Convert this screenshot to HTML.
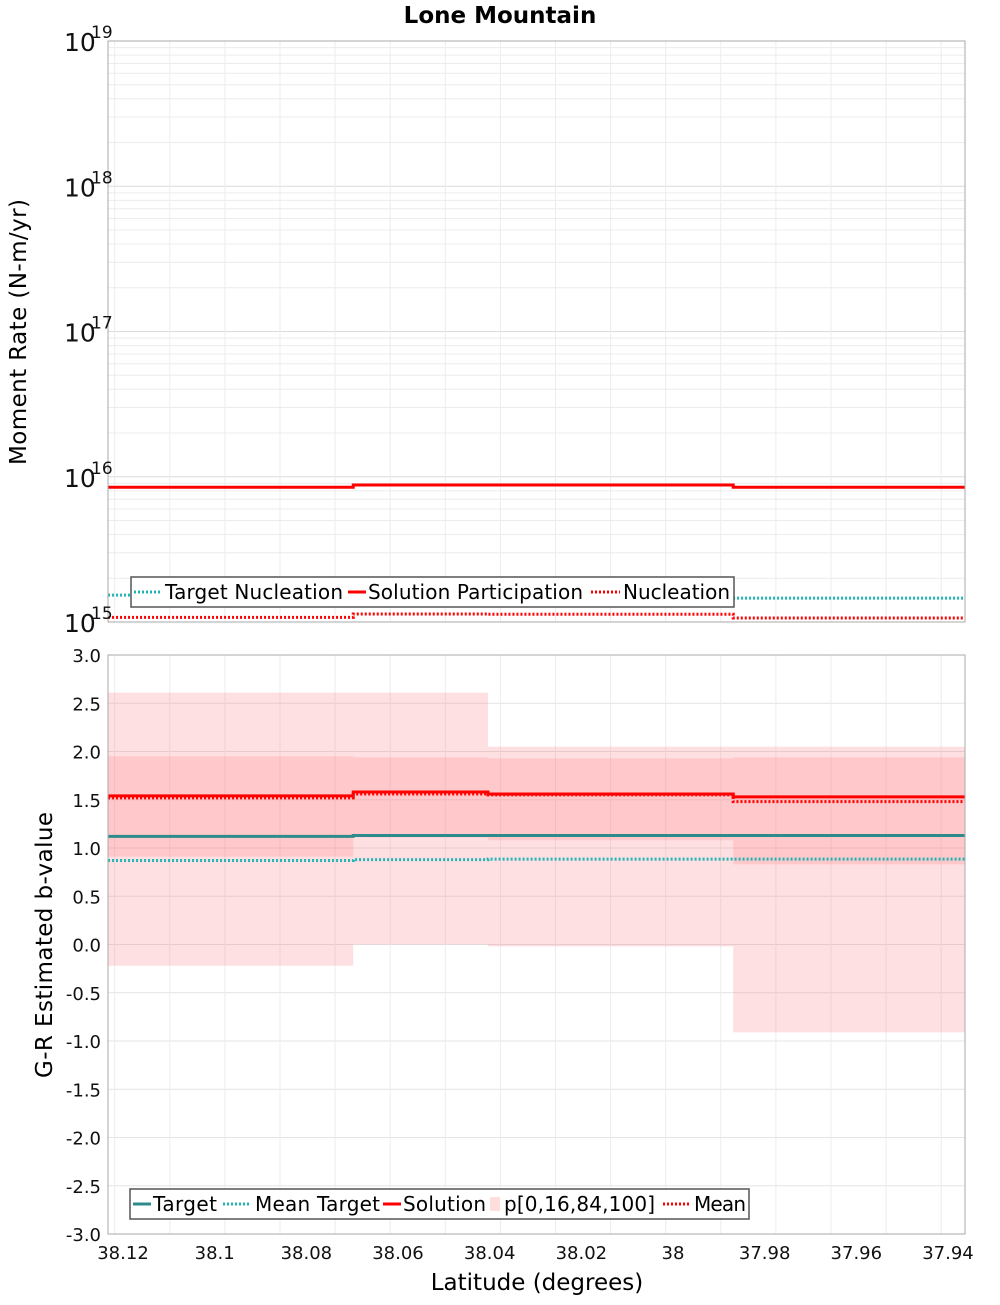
<!DOCTYPE html>
<html><head><meta charset="utf-8"><style>
body{margin:0;background:#fff}
text{font-family:"DejaVu Sans","Liberation Sans",sans-serif}
</style></head><body>
<svg id="c" width="1000" height="1300" xmlns="http://www.w3.org/2000/svg"></svg>
<script>
// data
const edges = [38.1237, 38.0702, 38.0408, 37.9873, 37.9367];
const topSolution = [8.46e15, 8.78e15, 8.78e15, 8.46e15];
const topTargetNuc = [1.53e15, 1.50e15, 1.48e15, 1.46e15];
const topNucleation = [1.077e15, 1.135e15, 1.13e15, 1.066e15];
const bSolution = [1.54, 1.58, 1.56, 1.53];
const bMean = [1.52, 1.56, 1.55, 1.48];
const bTarget = [1.12, 1.13, 1.13, 1.13];
const bMeanTarget = [0.87, 0.88, 0.885, 0.885];
const p0 = [-0.22, 0.0, -0.02, -0.91];
const p16 = [0.91, 1.11, 1.08, 0.83];
const p84 = [1.95, 1.94, 1.93, 1.94];
const p100 = [2.61, 2.61, 2.05, 2.05];
const xTicks = [38.12, 38.1, 38.08, 38.06, 38.04, 38.02, 38, 37.98, 37.96, 37.94];
const xTickLabels = ["38.12","38.1","38.08","38.06","38.04","38.02","38","37.98","37.96","37.94"];
const bTicks = [3,2.5,2,1.5,1,0.5,0,-0.5,-1,-1.5,-2,-2.5,-3];
const bTickLabels = ["3.0","2.5","2.0","1.5","1.0","0.5","0.0","-0.5","-1.0","-1.5","-2.0","-2.5","-3.0"];
const topDecades = [15,16,17,18,19];

const svg = document.getElementById('c');
const NS = 'http://www.w3.org/2000/svg';
function mk(tag, attrs, parent){const e=document.createElementNS(NS,tag);for(const k in attrs)e.setAttribute(k,attrs[k]);(parent||svg).appendChild(e);return e;}
const L=108,R=965;
const xS = v => 125 + (38.12 - v) * 4583.3;
const yTop = v => 622 - (Math.log10(v) - 15) * 145.25;
const yBot = v => 944.5 - v * 96.5;

let g = mk('g',{});


for(let d=15; d<19; d++){ for(let m=1;m<10;m++){ const y=yTop(m*Math.pow(10,d)); mk('line',{x1:L,x2:R,y1:y,y2:y,stroke:m===1?'#dcdcdc':'#ececec','stroke-width':1},g);} }
let gb = mk('g',{});


for(const t of bTicks){const y=yBot(t); mk('line',{x1:L,x2:R,y1:y,y2:y,stroke:'#e4e4e4','stroke-width':1},gb);}
for(let x=114.7;x<R;x+=55.1){ mk('line',{x1:x,x2:x,y1:41,y2:622,stroke:'#ececec'},g); mk('line',{x1:x,x2:x,y1:655,y2:1234,stroke:'#ececec'},gb); }

function steps(arr, yf, style, name){
  const gg = mk('g',{});
  
  
  let d='';
  for(let i=0;i<arr.length;i++){
    const x1=xS(edges[i]), x2=xS(edges[i+1]), y=yf(arr[i]);
    d += (i===0?'M':'L')+x1+' '+y+' L'+x2+' '+y+' ';
  }
  mk('path',Object.assign({d:d,fill:'none'},style),gg);
  return gg;
}
function bands(lo, hi, color, name){
  const gg = mk('g',{});
  
  
  for(let i=0;i<lo.length;i++){
    const x1=xS(edges[i]), x2=xS(edges[i+1]);
    mk('rect',{x:x1,width:x2-x1,y:yBot(hi[i]),height:yBot(lo[i])-yBot(hi[i]),fill:color},gg);
  }
}
const dotted = c => ({stroke:c,'stroke-width':3,'stroke-dasharray':'2 2'});
const solid = c => ({stroke:c,'stroke-width':3});

steps(topTargetNuc, yTop, dotted('#1fb5b5'), 'target-nucleation-line');
steps(topSolution, yTop, solid('#ff0000'), 'solution-participation-line');
steps(topNucleation, yTop, dotted('#ff0000'), 'nucleation-line');

bands(p0, p100, 'rgba(255,110,120,0.21)', 'p0-p100-band');
bands(p16, p84, 'rgba(255,110,120,0.2)', 'p16-p84-band');
steps(bSolution, yBot, solid('#ff0000'), 'solution-line');
steps(bMean, yBot, dotted('#ff0000'), 'mean-line');
steps(bTarget, yBot, solid('#2e8b8b'), 'target-line');
steps(bMeanTarget, yBot, dotted('#1fb5b5'), 'mean-target-line');

mk('rect',{x:L,y:41,width:R-L,height:581,fill:'none',stroke:'#aaa'});
mk('rect',{x:L,y:655,width:R-L,height:579,fill:'none',stroke:'#aaa'});

for(const d of topDecades){
  const y=yTop(Math.pow(10,d));
  const t=mk('text',{x:64,y:y+10,'font-size':25,fill:'#111'});
  
  
  t.textContent='10';
  const s=mk('text',{x:91,y:y-3,'font-size':17,fill:'#111'});
  
  
  s.textContent=String(d);
}
bTicks.forEach((v,i)=>{
  const t=mk('text',{x:101,y:yBot(v)+7,'font-size':18,'text-anchor':'end',fill:'#111'});
  
  
  t.textContent=bTickLabels[i];
});
xTicks.forEach((v,i)=>{
  const t=mk('text',{x:xS(v)-2,y:1259,'font-size':18,'text-anchor':'middle',fill:'#111'});
  
  
  t.textContent=xTickLabels[i];
});
</script>
<svg style="position:absolute;left:0;top:0" width="1000" height="1300" xmlns="http://www.w3.org/2000/svg">
<text x="500" y="23" font-size="23" font-weight="bold" text-anchor="middle" font-family="DejaVu Sans, Liberation Sans, sans-serif">Lone Mountain</text>
<text transform="translate(26,332) rotate(-90)" font-size="23" text-anchor="middle" textLength="266" font-family="DejaVu Sans, Liberation Sans, sans-serif">Moment Rate (N-m/yr)</text>
<text transform="translate(52,945) rotate(-90)" font-size="23" text-anchor="middle" textLength="266" font-family="DejaVu Sans, Liberation Sans, sans-serif">G-R Estimated b-value</text>
<text x="537" y="1290" font-size="23" text-anchor="middle" font-family="DejaVu Sans, Liberation Sans, sans-serif">Latitude (degrees)</text>
<g font-family="DejaVu Sans, Liberation Sans, sans-serif" font-size="20">
<rect x="131" y="577" width="603" height="30" fill="#fff" stroke="#555" stroke-width="1.5"/>
<line x1="134" x2="162" y1="592" y2="592" stroke="#1fb5b5" stroke-width="3" stroke-dasharray="2 2"/>
<text x="165" y="599" textLength="178">Target Nucleation</text>
<line x1="348" x2="366" y1="592" y2="592" stroke="#f00" stroke-width="3"/>
<text x="368" y="599" textLength="215">Solution Participation</text>
<line x1="591" x2="620" y1="592" y2="592" stroke="#f00" stroke-width="3" stroke-dasharray="2 2"/>
<text x="623" y="599" textLength="107">Nucleation</text>
</g>
<g font-family="DejaVu Sans, Liberation Sans, sans-serif" font-size="20">
<rect x="130" y="1189" width="619" height="30" fill="#fff" stroke="#555" stroke-width="1.5"/>
<line x1="133" x2="151" y1="1204" y2="1204" stroke="#2e8b8b" stroke-width="3"/>
<text x="153" y="1211" textLength="64">Target</text>
<line x1="223" x2="251" y1="1204" y2="1204" stroke="#1fb5b5" stroke-width="3" stroke-dasharray="2 2"/>
<text x="255" y="1211" textLength="125">Mean Target</text>
<line x1="383" x2="401" y1="1204" y2="1204" stroke="#f00" stroke-width="3"/>
<text x="403" y="1211" textLength="83">Solution</text>
<rect x="490" y="1197" width="10" height="14" fill="#ffdede"/>
<text x="504" y="1211" textLength="151">p[0,16,84,100]</text>
<line x1="663" x2="691" y1="1204" y2="1204" stroke="#f00" stroke-width="3" stroke-dasharray="2 2"/>
<text x="694" y="1211" textLength="52">Mean</text>
</g>
</svg>
</body></html>
